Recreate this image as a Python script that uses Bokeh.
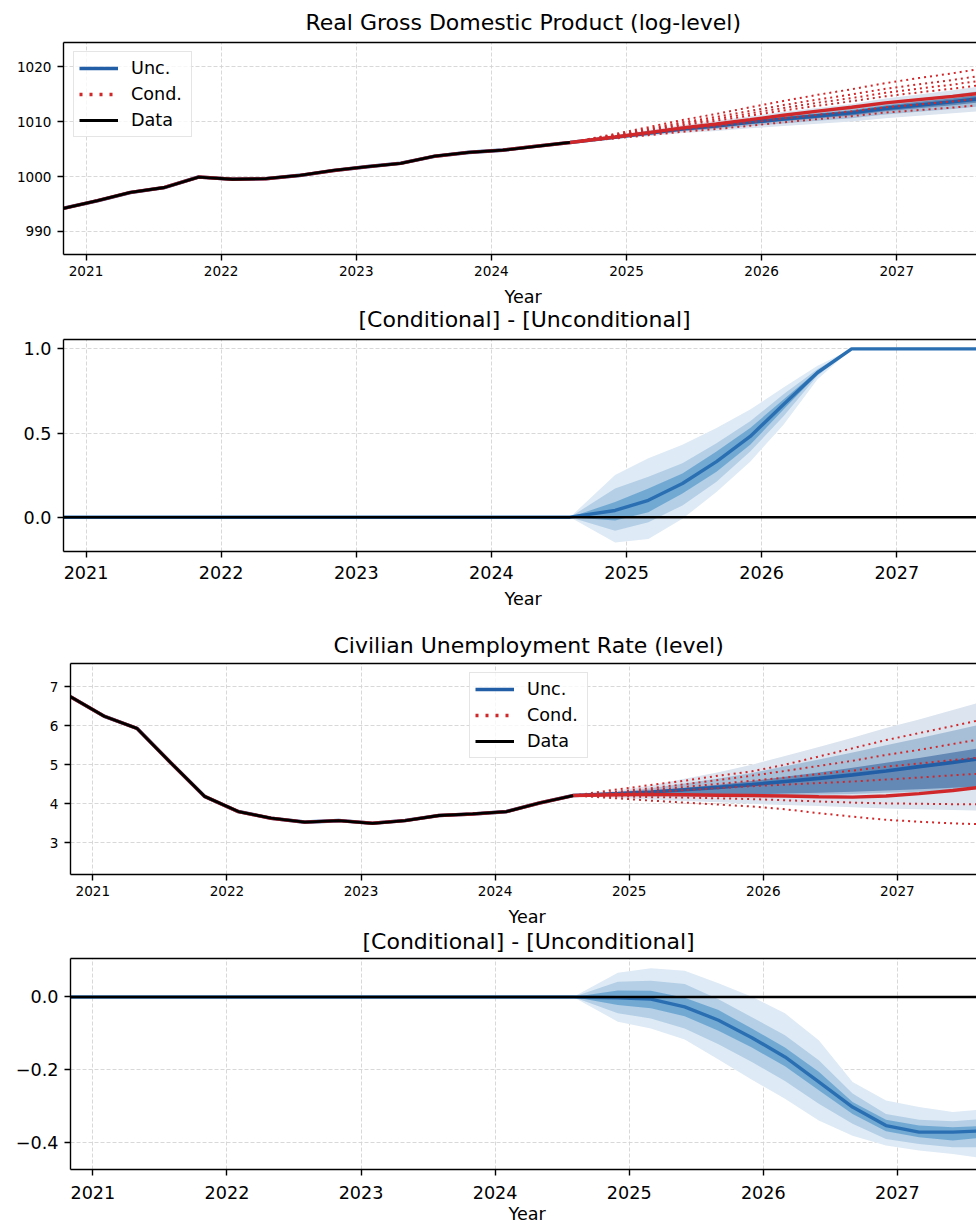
import numpy as np
import pandas as pd
from bokeh.plotting import figure
from bokeh.layouts import column
from bokeh.models import (Range1d, FixedTicker, Span, Legend, LegendItem,
                          LinearAxis, CustomJSTickFormatter, Title)
from bokeh.embed import file_html
from bokeh.resources import INLINE

FONT = "DejaVu Sans"

# ---------------------------------------------------------------- dates
hist_dates = ["2020-11-01", "2021-02-01", "2021-05-01", "2021-08-01",
              "2021-11-01", "2022-02-01", "2022-05-01", "2022-08-01",
              "2022-11-01", "2023-02-01", "2023-05-01", "2023-08-01",
              "2023-11-01", "2024-02-01", "2024-05-01", "2024-08-01"]
fc_dates = ["2024-08-01", "2024-12-01", "2025-03-01", "2025-06-01",
            "2025-09-01", "2025-12-01", "2026-03-01", "2026-06-01",
            "2026-09-01", "2026-12-01", "2027-03-01", "2027-06-01",
            "2027-09-01"]
year_ticks = [2021, 2022, 2023, 2024, 2025, 2026, 2027, 2028]

# ---------------------------------------------------------------- GDP (log-level)
gdp_data = [994.2, 995.6, 997.1, 998.0, 999.9, 999.5, 999.6, 1000.2,
            1001.1, 1001.8, 1002.4, 1003.7, 1004.4, 1004.8, 1005.5, 1006.2]
gdp_unc_med = [1006.2, 1007.16, 1007.9, 1008.65, 1009.22, 1009.87, 1010.48,
               1011.04, 1011.6, 1012.4, 1013.0, 1013.6, 1014.3]
gdp_unc_hi3 = [1006.2, 1007.51, 1008.45, 1009.4, 1010.17, 1010.97, 1011.78,
               1012.49, 1013.2, 1014.2, 1014.95, 1015.7, 1016.6]
gdp_unc_lo3 = [1006.2, 1006.81, 1007.35, 1007.9, 1008.27, 1008.77, 1009.18,
               1009.59, 1010.0, 1010.6, 1011.05, 1011.5, 1012.0]
gdp_unc_hi2 = [1006.2, 1007.38, 1008.24, 1009.12, 1009.81, 1010.55, 1011.29,
               1011.94, 1012.59, 1013.52, 1014.21, 1014.9, 1015.73]
gdp_unc_lo2 = [1006.2, 1006.94, 1007.56, 1008.18, 1008.63, 1009.19, 1009.67,
               1010.14, 1010.61, 1011.28, 1011.79, 1012.3, 1012.87]
gdp_unc_hi1 = [1006.2, 1007.26, 1008.07, 1008.88, 1009.51, 1010.2, 1010.87,
               1011.48, 1012.08, 1012.94, 1013.59, 1014.23, 1014.99]
gdp_unc_lo1 = [1006.2, 1007.06, 1007.73, 1008.42, 1008.93, 1009.54, 1010.09,
               1010.6, 1011.12, 1011.86, 1012.41, 1012.97, 1013.61]
gdp_cond_med = [1006.2, 1007.2, 1008.0, 1008.85, 1009.55, 1010.35, 1011.15,
                1011.9, 1012.6, 1013.4, 1014.0, 1014.6, 1015.3]
gdp_cond_q = [
    [1006.2, 1007.74, 1008.99, 1010.29, 1011.4, 1012.6, 1013.76, 1014.87,
     1015.89, 1017.0, 1017.92, 1018.79, 1019.8],
    [1006.2, 1007.58, 1008.7, 1009.87, 1010.86, 1011.95, 1013.01, 1014.01,
     1014.94, 1015.96, 1016.78, 1017.58, 1018.5],
    [1006.2, 1007.48, 1008.51, 1009.59, 1010.49, 1011.5, 1012.48, 1013.42,
     1014.28, 1015.24, 1016.0, 1016.74, 1017.6],
    [1006.2, 1007.38, 1008.33, 1009.33, 1010.17, 1011.1, 1012.02, 1012.89,
     1013.7, 1014.6, 1015.31, 1016.0, 1016.8],
    [1006.2, 1007.08, 1007.78, 1008.53, 1009.14, 1009.85, 1010.57, 1011.24,
     1011.87, 1012.6, 1013.13, 1013.67, 1014.3],
    [1006.2, 1006.94, 1007.52, 1008.15, 1008.65, 1009.25, 1009.87, 1010.45,
     1010.99, 1011.64, 1012.09, 1012.55, 1013.1],
]

# GDP: conditional minus unconditional
gdp_diff_med = [0, 0.04, 0.10, 0.20, 0.33, 0.48, 0.67, 0.86, 1.0, 1.0, 1.0, 1.0, 1.0]
gdp_diff_hi3 = [0, 0.25, 0.35, 0.43, 0.53, 0.64, 0.77, 0.90, 1.0, 1.0, 1.0, 1.0, 1.0]
gdp_diff_lo3 = [0, -0.15, -0.13, -0.01, 0.15, 0.33, 0.55, 0.82, 1.0, 1.0, 1.0, 1.0, 1.0]
gdp_diff_hi2 = [0, 0.17, 0.24, 0.32, 0.44, 0.57, 0.73, 0.88, 1.0, 1.0, 1.0, 1.0, 1.0]
gdp_diff_lo2 = [0, -0.08, -0.03, 0.07, 0.21, 0.39, 0.60, 0.84, 1.0, 1.0, 1.0, 1.0, 1.0]
gdp_diff_hi1 = [0, 0.09, 0.17, 0.26, 0.39, 0.53, 0.70, 0.87, 1.0, 1.0, 1.0, 1.0, 1.0]
gdp_diff_lo1 = [0, -0.02, 0.03, 0.14, 0.27, 0.43, 0.64, 0.85, 1.0, 1.0, 1.0, 1.0, 1.0]

# ---------------------------------------------------------------- unemployment
ur_data = [6.74, 6.24, 5.93, 5.05, 4.19, 3.80, 3.63, 3.53, 3.57, 3.50,
           3.57, 3.70, 3.74, 3.80, 4.02, 4.21]
ur_unc_med = [4.21, 4.26, 4.30, 4.36, 4.42, 4.49, 4.57, 4.65, 4.74, 4.84,
              4.95, 5.06, 5.18]
ur_unc_hi3 = [4.21, 4.34, 4.47, 4.64, 4.81, 5.0, 5.22, 5.45, 5.69, 5.94,
              6.16, 6.4, 6.64]
ur_unc_lo3 = [4.21, 4.15, 4.11, 4.07, 4.04, 4.0, 3.97, 3.94, 3.91, 3.88,
              3.86, 3.84, 3.82]
ur_unc_hi2 = [4.21, 4.30, 4.40, 4.52, 4.65, 4.79, 4.96, 5.13, 5.31, 5.50,
              5.68, 5.87, 6.06]
ur_unc_lo2 = [4.21, 4.19, 4.18, 4.18, 4.18, 4.19, 4.21, 4.23, 4.25, 4.28,
              4.31, 4.34, 4.38]
ur_unc_hi1 = [4.21, 4.27, 4.33, 4.41, 4.49, 4.58, 4.69, 4.80, 4.92, 5.05,
              5.17, 5.31, 5.45]
ur_unc_lo1 = [4.21, 4.21, 4.21, 4.22, 4.23, 4.24, 4.26, 4.28, 4.31, 4.34,
              4.37, 4.41, 4.45]
ur_cond_med = [4.21, 4.23, 4.24, 4.23, 4.22, 4.21, 4.20, 4.18, 4.17, 4.20,
               4.26, 4.34, 4.44]
ur_cond_q = [
    [4.21, 4.37, 4.48, 4.59, 4.72, 4.83, 5.0, 5.21, 5.42, 5.63, 5.81, 5.99, 6.18],
    [4.21, 4.31, 4.4, 4.5, 4.61, 4.72, 4.84, 4.97, 5.1, 5.25, 5.38, 5.53, 5.68],
    [4.21, 4.28, 4.35, 4.43, 4.51, 4.59, 4.67, 4.76, 4.85, 4.95, 5.03, 5.12, 5.2],
    [4.21, 4.26, 4.3, 4.35, 4.4, 4.45, 4.49, 4.53, 4.57, 4.62, 4.67, 4.73, 4.78],
    [4.21, 4.19, 4.17, 4.16, 4.14, 4.12, 4.09, 4.06, 4.03, 4.01, 4.0, 3.99, 3.99],
    [4.21, 4.14, 4.08, 4.03, 3.98, 3.93, 3.86, 3.76, 3.67, 3.59, 3.54, 3.5, 3.47],
]

# unemployment: conditional minus unconditional
ur_diff_med = [0, -0.002, -0.006, -0.027, -0.064, -0.112, -0.165, -0.234,
               -0.303, -0.354, -0.372, -0.372, -0.368]
ur_diff_hi3 = [0, 0.067, 0.079, 0.072, 0.038, 0.001, -0.045, -0.119,
               -0.234, -0.285, -0.303, -0.317, -0.308]
ur_diff_lo3 = [0, -0.068, -0.087, -0.117, -0.172, -0.228, -0.280, -0.340,
               -0.382, -0.409, -0.423, -0.432, -0.446]
ur_diff_hi2 = [0, 0.042, 0.045, 0.036, -0.006, -0.056, -0.105, -0.174,
               -0.266, -0.322, -0.338, -0.342, -0.335]
ur_diff_lo2 = [0, -0.045, -0.059, -0.087, -0.130, -0.179, -0.231, -0.294,
               -0.349, -0.391, -0.405, -0.414, -0.414]
ur_diff_hi1 = [0, 0.018, 0.017, -0.002, -0.036, -0.087, -0.139, -0.206,
               -0.289, -0.338, -0.354, -0.359, -0.354]
ur_diff_lo1 = [0, -0.022, -0.031, -0.053, -0.093, -0.139, -0.191, -0.257,
               -0.322, -0.370, -0.386, -0.395, -0.386]

# ---------------------------------------------------------------- styling
RED = "#d0282a"
BLUE_LVL = "#215ea6"
BANDS_LVL = ["#dbe4ef", "#a8bfd8", "#6589b5"]
BLUE_DIFF = "#2b6fb3"
BANDS_DIFF = ["#deeaf5", "#b4cfe6", "#72a9d3"]
GRID = "#d4d4d4"
WIDTH = 976
TITLE_PX = "22px"
LABEL_PX = "17.6px"


def decimal_year(dates):
    d = pd.to_datetime(pd.Series(dates))
    days = np.where(d.dt.is_leap_year, 366.0, 365.0)
    return (d.dt.year + (d.dt.dayofyear - 1) / days).to_numpy()


xh = decimal_year(hist_dates)
xf = decimal_year(fc_dates)
X_START, X_END = xh[0], 2027.59

signed_fmt = CustomJSTickFormatter(
    code="return tick.toFixed(1).replace('-', '\\u2212');")


def text_title(text, size, offset, standoff):
    return Title(text=text, align="left", offset=offset, standoff=standoff,
                 text_font=FONT, text_font_size=size,
                 text_font_style="normal", text_color="black")


def make_panel(top, frame_h, bottom, left, y_range, yticks, tick_px,
               tick_pad, fmt=None):
    p = figure(width=WIDTH, height=top + frame_h + bottom,
               x_range=Range1d(X_START, X_END), y_range=Range1d(*y_range),
               output_backend="svg", toolbar_location=None,
               min_border_left=left, min_border_right=0,
               min_border_top=top, min_border_bottom=bottom,
               background_fill_color="white", border_fill_color="white",
               frame_align=False)
    p.outline_line_color = None

    xa = p.below[0]
    xa.ticker = FixedTicker(ticks=year_ticks)
    ya = p.left[0]
    ya.ticker = FixedTicker(ticks=yticks)
    if fmt is not None:
        ya.formatter = fmt
    for ax in (xa, ya):
        ax.major_label_text_font = FONT
        ax.major_label_text_font_size = tick_px
        ax.major_label_text_color = "black"
        ax.axis_line_color = "black"
        ax.axis_line_width = 1.4
        ax.major_tick_line_color = "black"
        ax.major_tick_line_width = 1.4
        ax.major_tick_out = 6
        ax.major_tick_in = 0
        ax.minor_tick_out = 0
        ax.minor_tick_in = 0
    xa.major_label_standoff = tick_pad
    ya.major_label_standoff = 6

    top_axis = LinearAxis(ticker=FixedTicker(ticks=[]),
                          major_label_text_font_size="0px",
                          major_tick_out=0, major_tick_in=0,
                          minor_tick_out=0, minor_tick_in=0,
                          major_label_standoff=0,
                          axis_line_color="black", axis_line_width=1.4)
    p.add_layout(top_axis, "above")

    for g, ticks in ((p.xgrid[0], year_ticks), (p.ygrid[0], yticks)):
        g.ticker = FixedTicker(ticks=ticks)
        g.grid_line_color = GRID
        g.grid_line_dash = "4 2"
        g.grid_line_width = 0.9
    return p


def bands(p, lo_hi_pairs, colors):
    for (lo, hi), c in zip(lo_hi_pairs, colors):
        p.varea(x=xf, y1=lo, y2=hi, fill_color=c, fill_alpha=1.0)


def legend_for(p, loc):
    nan = [float("nan")]
    r_unc = p.line(x=nan, y=nan, line_color=BLUE_LVL, line_width=3.6)
    r_cond = p.line(x=nan, y=nan, line_color=RED, line_width=3.3,
                    line_dash="3 7")
    r_data = p.line(x=nan, y=nan, line_color="black", line_width=3.0)
    leg = Legend(items=[LegendItem(label="Unc.", renderers=[r_unc]),
                        LegendItem(label="Cond.", renderers=[r_cond]),
                        LegendItem(label="Data", renderers=[r_data])],
                 location=loc, label_text_font=FONT,
                 label_text_font_size=LABEL_PX, label_text_color="black",
                 glyph_width=39, glyph_height=22, label_height=22,
                 label_width=55, spacing=4, padding=5, label_standoff=13,
                 margin=0, border_line_color="#cccccc", border_line_width=1,
                 background_fill_color="white", background_fill_alpha=0.8)
    p.add_layout(leg)


def level_panel(top, frame_h, bottom, left, y_range, yticks, data, unc,
                cond_med, cond_q, legend_loc):
    p = make_panel(top, frame_h, bottom, left, y_range, yticks, "13.6px", 5)
    med, hi3, lo3, hi2, lo2, hi1, lo1 = unc
    bands(p, [(lo3, hi3), (lo2, hi2), (lo1, hi1)], BANDS_LVL)
    x_all = np.concatenate([xh, xf[1:]])
    p.line(x=x_all, y=list(data) + list(med[1:]),
           line_color=BLUE_LVL, line_width=3.6)
    for q in cond_q:
        p.line(x=xf, y=q, line_color=RED, line_width=2.0, line_dash="2 4")
    p.line(x=x_all, y=list(data) + list(cond_med[1:]),
           line_color=RED, line_width=3.4)
    p.line(x=xh, y=data, line_color="black", line_width=2.8)
    legend_for(p, legend_loc)
    return p


def diff_panel(top, frame_h, bottom, left, y_range, yticks, diff, tick_pad):
    p = make_panel(top, frame_h, bottom, left, y_range, yticks, LABEL_PX,
                   tick_pad, signed_fmt)
    med, hi3, lo3, hi2, lo2, hi1, lo1 = diff
    bands(p, [(lo3, hi3), (lo2, hi2), (lo1, hi1)], BANDS_DIFF)
    p.line(x=np.concatenate([xh, xf[1:]]),
           y=[0.0] * len(xh) + list(med[1:]),
           line_color=BLUE_DIFF, line_width=3.4)
    p.add_layout(Span(location=0, dimension="width", line_color="black",
                      line_width=2.4))
    return p


DIFF_TITLE = "[Conditional] - [Unconditional]"
# The "Year" caption under a level panel shares the header strip of the
# panel below it; under a difference panel it sits in that panel's footer.

# Real GDP ----------------------------------------------------------------
p1 = level_panel(42, 212, 32, 63, (985.8, 1024.4), [990, 1000, 1010, 1020],
                 gdp_data,
                 (gdp_unc_med, gdp_unc_hi3, gdp_unc_lo3, gdp_unc_hi2,
                  gdp_unc_lo2, gdp_unc_hi1, gdp_unc_lo1),
                 gdp_cond_med, gdp_cond_q, (10, 117))
p1.add_layout(text_title("Real Gross Domestic Product (log-level)", TITLE_PX,
                         242, 15), "above")

p2 = diff_panel(53, 212, 64, 63, (-0.204, 1.056), [0.0, 0.5, 1.0],
                (gdp_diff_med, gdp_diff_hi3, gdp_diff_lo3, gdp_diff_hi2,
                 gdp_diff_lo2, gdp_diff_hi1, gdp_diff_lo1), 8)
p2.add_layout(text_title(DIFF_TITLE, TITLE_PX, 295, 15), "above")
p2.add_layout(text_title("Year", LABEL_PX, 441, -18), "above")
p2.add_layout(text_title("Year", LABEL_PX, 441, 11), "below")

# Unemployment ------------------------------------------------------------
p3 = level_panel(48, 211, 31, 70, (2.19, 7.59), [3, 4, 5, 6, 7], ur_data,
                 (ur_unc_med, ur_unc_hi3, ur_unc_lo3, ur_unc_hi2,
                  ur_unc_lo2, ur_unc_hi1, ur_unc_lo1),
                 ur_cond_med, ur_cond_q, (399, 116))
p3.add_layout(text_title("Civilian Unemployment Rate (level)", TITLE_PX,
                         263, 11), "above")

p4 = diff_panel(53, 211, 54, 70, (-0.475, 0.106), [-0.4, -0.2, 0.0],
                (ur_diff_med, ur_diff_hi3, ur_diff_lo3, ur_diff_hi2,
                 ur_diff_lo2, ur_diff_hi1, ur_diff_lo1), 10)
p4.add_layout(text_title(DIFF_TITLE, TITLE_PX, 292, 9), "above")
p4.add_layout(text_title("Year", LABEL_PX, 438, -8), "above")
p4.add_layout(text_title("Year", LABEL_PX, 438, -0.5), "below")

layout = column(p1, p2, p3, p4, spacing=0)
open("out.html", "w").write(file_html(layout, INLINE))
